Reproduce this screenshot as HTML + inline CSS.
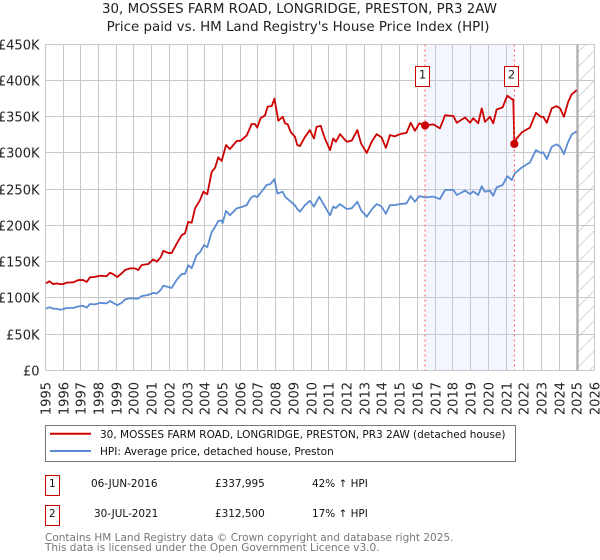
<!DOCTYPE html>
<html lang="en">
<head>
<meta charset="utf-8">
<title>30, MOSSES FARM ROAD, LONGRIDGE, PRESTON, PR3 2AW</title>
<style>
html,body{margin:0;padding:0;background:#fff;}
svg{display:block;font-family:"DejaVu Sans","Liberation Sans",sans-serif;}
</style>
</head>
<body>
<svg id="chart" xmlns="http://www.w3.org/2000/svg" width="600" height="560" viewBox="0 0 600 560">
  <defs>
    <pattern id="hatch" patternUnits="userSpaceOnUse" width="15" height="15">
      <path d="M-1 16 L16 -1" stroke="#d6d6d6" stroke-width="1" fill="none"/>
    </pattern>
  </defs>
  <text x="299.5" y="13" text-anchor="middle" font-size="13.4" fill="#222">30, MOSSES FARM ROAD, LONGRIDGE, PRESTON, PR3 2AW</text>
  <text x="298" y="31" text-anchor="middle" font-size="13.4" fill="#222">Price paid vs. HM Land Registry's House Price Index (HPI)</text>
  <g id="plot"></g>

  <g>
    <rect x="45.5" y="425.5" width="470" height="36" fill="#fff" stroke="#777" stroke-width="1"/>
    <line x1="50" x2="91" y1="433.8" y2="433.8" stroke="#cc0000" stroke-width="2"/>
    <text x="100" y="438" font-size="10.5" fill="#111">30, MOSSES FARM ROAD, LONGRIDGE, PRESTON, PR3 2AW (detached house)</text>
    <line x1="50" x2="91" y1="451" y2="451" stroke="#5b8bd2" stroke-width="2"/>
    <text x="100" y="455" font-size="10.5" fill="#111">HPI: Average price, detached house, Preston</text>
  </g>

  <g font-size="10.45" fill="#111">
    <rect x="45.5" y="475.5" width="14" height="20" fill="#fff" stroke="#cc0000"/>
    <text x="52.3" y="487" text-anchor="middle">1</text>
    <text x="91" y="487">06-JUN-2016</text>
    <text x="215" y="487">£337,995</text>
    <text x="312" y="487">42% ↑ HPI</text>
  </g>
  <g font-size="10.45" fill="#111">
    <rect x="45.5" y="505.5" width="14" height="20" fill="#fff" stroke="#cc0000"/>
    <text x="52.3" y="517" text-anchor="middle">2</text>
    <text x="94" y="517">30-JUL-2021</text>
    <text x="215" y="517">£312,500</text>
    <text x="312" y="517">17% ↑ HPI</text>
  </g>
  <text x="45" y="541" font-size="10.5" fill="#777">Contains HM Land Registry data © Crown copyright and database right 2025.</text>
  <text x="45" y="551" font-size="10.5" fill="#777">This data is licensed under the Open Government Licence v3.0.</text>
</svg>
<script>
const yearTicks = [1995,1996,1997,1998,1999,2000,2001,2002,2003,2004,2005,2006,2007,2008,2009,2010,2011,2012,2013,2014,2015,2016,2017,2018,2019,2020,2021,2022,2023,2024,2025,2026];
const priceTicks = [0,50,100,150,200,250,300,350,400,450];
const priceTickLabels = ['£0','£50K','£100K','£150K','£200K','£250K','£300K','£350K','£400K','£450K'];

const priceDates = [1995.04,1995.23,1995.45,1995.64,1995.83,1996.02,1996.2,1996.58,1996.86,1997.14,1997.34,1997.52,1997.8,1998.09,1998.46,1998.65,1998.84,1999.06,1999.31,1999.5,1999.78,2000.06,2000.25,2000.44,2000.81,2001.09,2001.29,2001.51,2001.66,2001.94,2002.13,2002.42,2002.7,2002.88,2003.07,2003.26,2003.45,2003.73,2003.92,2004.14,2004.39,2004.58,2004.76,2004.95,2005.2,2005.42,2005.8,2006.03,2006.36,2006.65,2006.83,2006.96,2007.15,2007.4,2007.55,2007.78,2007.93,2008.15,2008.4,2008.53,2008.68,2008.85,2009.09,2009.22,2009.37,2009.65,2009.93,2010.16,2010.31,2010.54,2010.78,2011.07,2011.25,2011.4,2011.63,2012.01,2012.29,2012.61,2012.82,2013.14,2013.42,2013.7,2013.98,2014.22,2014.45,2014.73,2015.01,2015.39,2015.62,2015.86,2016.11,2016.43,2016.9,2017.27,2017.56,2018.03,2018.22,2018.69,2018.97,2019.15,2019.43,2019.63,2019.81,2020.09,2020.28,2020.47,2020.81,2021.07,2021.32,2021.41,2021.47,2021.6,2021.89,2022.35,2022.69,2022.96,2023.1,2023.3,2023.58,2023.86,2024.05,2024.27,2024.51,2024.71,2024.99];
const priceValues = [120,123,119,120,119,119,121,121.5,124.6,124.6,122,128.3,129,130.5,130,134.7,132.5,128.8,133.8,138.4,140.7,140.7,138.4,145.3,146.7,153,150,156,165,162,162,175,186.7,189,205,203.6,223.5,235,246.5,243,274,279.6,294,289,311,305.4,316.5,317,324,340,340,335,348,352,364,364.7,375,344.5,350,341,339.5,329,322.4,311,309.5,322,331.6,320,336,337.5,320,304,320,315.5,326,315.5,317,331.6,313,300,315.5,326,321.5,307,324.7,323,326,328,341.7,330.7,341,338,339.5,334,352,351,341.7,349,341.7,348,341,361.6,343,350,341,360,363,379,374.4,374,312.5,320,328.4,335,355.5,350,350,341.7,361.6,364.7,361.6,350,370.7,381,386.8];

const hpiDates = [1995.04,1995.23,1995.45,1995.64,1995.83,1996.02,1996.2,1996.58,1996.86,1997.14,1997.34,1997.52,1997.8,1998.09,1998.46,1998.65,1998.84,1999.06,1999.31,1999.5,1999.78,2000.06,2000.25,2000.44,2000.81,2001.09,2001.29,2001.51,2001.66,2001.94,2002.13,2002.42,2002.7,2002.88,2003.07,2003.26,2003.54,2003.73,2003.96,2004.14,2004.39,2004.58,2004.76,2004.95,2005.0,2005.2,2005.42,2005.8,2006.15,2006.36,2006.6,2006.8,2006.96,2007.2,2007.5,2007.7,2007.93,2008.1,2008.4,2008.53,2008.8,2009.08,2009.22,2009.37,2009.65,2009.93,2010.16,2010.46,2010.78,2011.07,2011.25,2011.4,2011.63,2012.01,2012.29,2012.61,2012.82,2013.14,2013.42,2013.7,2013.98,2014.22,2014.45,2014.73,2015.01,2015.39,2015.62,2015.86,2016.11,2016.43,2016.9,2017.27,2017.56,2018.03,2018.22,2018.69,2018.97,2019.15,2019.43,2019.63,2019.81,2020.09,2020.28,2020.47,2020.81,2021.07,2021.32,2021.5,2021.89,2022.35,2022.69,2022.96,2023.1,2023.3,2023.58,2023.86,2024.05,2024.27,2024.51,2024.71,2024.99];
const hpiValues = [85,87,85,85,83.6,84.5,86,86,88.3,89,86.4,91.5,91,93,92.5,95.6,93,90,93,98,99.5,99,99,102.5,104,106.8,106,110.8,116.8,115,113.6,125,133,133,145,141,159,163,173,170,191,198,206,207,203,220,214,223.5,226,228,238,241,239,246.5,256,257,264,244,246.5,239.5,234,228,222.5,219,228,234,226,239.7,226,214,226,224,229.5,222.7,223.6,232.7,221,212,222,229.5,226,216,228,228,229.5,230.5,240.5,232.7,240.5,238.7,239.7,236.4,249,249,242,248,243.3,247,242,254,246.5,248,241,252.5,255.7,268,262.7,272,280,287,304,300,301,291.6,308.6,312,308.6,298.5,315.5,325.7,330];

const saleNumbers = ['1','2'];
const saleDates = [2016.43,2021.47];
const saleValues = [337.995,312.5];
const lastDataDate = 2025.05;

const xScale = function (year) { return 45.3 + (year - 1995) * 17.72; };
const yScale = function (k) { return 370.3 - k * 0.7244; };
const snap = function (v) { return Math.floor(v) + 0.5; };
const SVGNS = 'http://www.w3.org/2000/svg';
const plot = document.getElementById('plot');

function make(tag, attrs) {
  const el = document.createElementNS(SVGNS, tag);
  Object.keys(attrs).forEach(function (k) { el.setAttribute(k, attrs[k]); });
  plot.appendChild(el);
  return el;
}

const top_ = snap(yScale(450));
const bottom_ = snap(yScale(0));
const left_ = snap(xScale(1995));
const right_ = snap(xScale(2026));

// Holding period shading
const band = make('rect', {x: xScale(saleDates[0]), y: top_, width: xScale(saleDates[1]) - xScale(saleDates[0]), height: bottom_ - top_, fill: '#f3f6fe'});



// Hatched "no data" region
const hatch = make('rect', {x: xScale(lastDataDate), y: top_, width: right_ - xScale(lastDataDate), height: bottom_ - top_, fill: 'url(#hatch)'});



// Horizontal grid and y labels
priceTicks.forEach(function (t, i) {
  const y = snap(yScale(t));
  const g = make('line', {x1: left_, x2: right_, y1: y, y2: y, stroke: '#c8c8c8', 'stroke-width': 1});
  
  
  const lab = make('text', {x: 39.5, y: y + 5, 'text-anchor': 'end', 'font-size': 13, fill: '#222'});
  lab.textContent = priceTickLabels[i];
  
  
});

// Vertical grid and x labels
yearTicks.forEach(function (t) {
  const x = snap(xScale(t));
  const g = make('line', {x1: x, x2: x, y1: top_, y2: bottom_, stroke: '#c8c8c8', 'stroke-width': 1});
  
  
  const lab = make('text', {x: x + 5, y: 382, 'text-anchor': 'end', 'font-size': 13, fill: '#222', transform: 'rotate(-90 ' + (x + 5) + ' 382)'});
  lab.textContent = String(t);
  
  
});

// End of data marker
const endLine = make('line', {x1: xScale(lastDataDate), x2: xScale(lastDataDate), y1: top_, y2: bottom_, stroke: '#a8a8a8', 'stroke-width': 1.5});



function pathFrom(dates, values) {
  return dates.map(function (d, i) {
    return xScale(d).toFixed(2) + ',' + yScale(values[i]).toFixed(2);
  }).join(' ');
}

const hpiLine = make('polyline', {points: pathFrom(hpiDates, hpiValues), fill: 'none', stroke: '#5b8bd2', 'stroke-width': 1.8, 'stroke-linejoin': 'round'});



const priceLine = make('polyline', {points: pathFrom(priceDates, priceValues), fill: 'none', stroke: '#cc0000', 'stroke-width': 1.8, 'stroke-linejoin': 'round'});



// Sale markers
saleDates.forEach(function (d, i) {
  const x = xScale(d);
  const drop = make('line', {x1: x, x2: x, y1: top_, y2: bottom_, stroke: '#ff5a5a', 'stroke-width': 1, 'stroke-dasharray': '2 3'});
  
  
  const y = yScale(saleValues[i]);
  const dot = make('circle', {cx: x, cy: y, r: 3.8, fill: '#cc0000', stroke: '#cc0000', 'stroke-width': 0.6});
  
  
  const box = make('rect', {x: Math.floor(x) - 9.5, y: 66.5, width: 14, height: 20, fill: '#fff', stroke: '#cc0000', 'stroke-width': 1});
  
  
  const num = make('text', {x: Math.floor(x) - 2.5, y: 78.5, 'text-anchor': 'middle', 'font-size': 11.5, fill: '#222'});
  num.textContent = saleNumbers[i];
  
  
});
</script>
</body>
</html>
